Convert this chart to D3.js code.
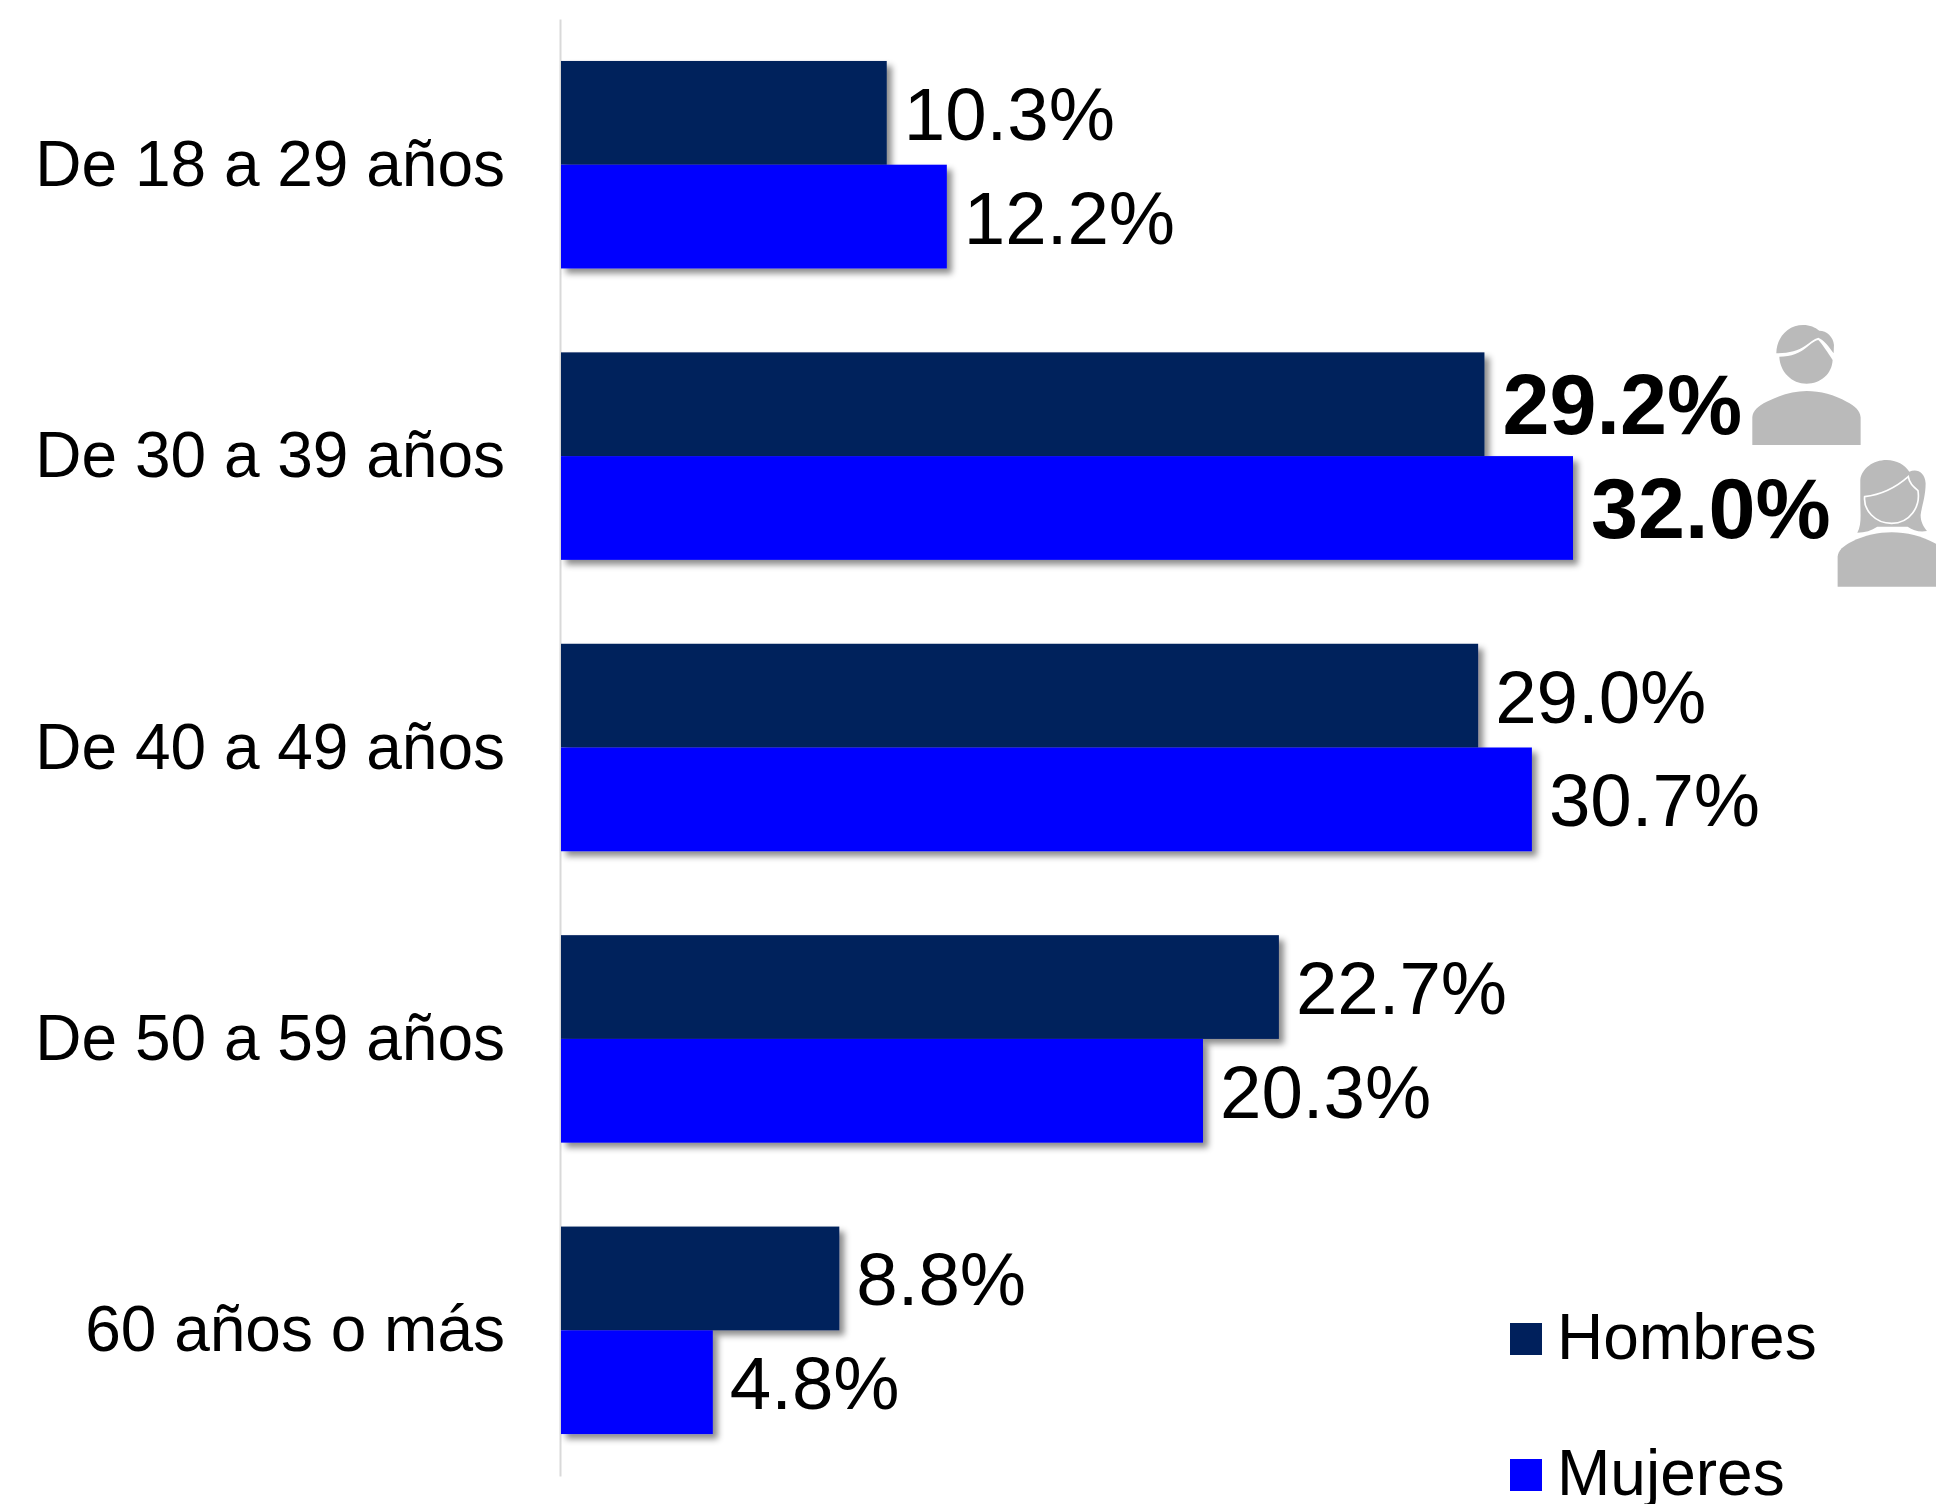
<!DOCTYPE html>
<html lang="es">
<head>
<meta charset="utf-8">
<title>Edad por sexo</title>
<script src="https://cdn.jsdelivr.net/npm/d3@7/dist/d3.min.js"></script>
<style>
  html, body { margin: 0; padding: 0; background: #fff; overflow: hidden; }
  svg { display: block; }
  text { font-family: "Liberation Sans", Arial, sans-serif; fill: #000; }
</style>
</head>
<body>
<svg id="chart" width="1936" height="1504"></svg>
<script>
const categorias = ["De 18 a 29 años", "De 30 a 39 años", "De 40 a 49 años", "De 50 a 59 años", "60 años o más"];
const hombres = [10.3, 29.2, 29.0, 22.7, 8.8];
const mujeres = [12.2, 32.0, 30.7, 20.3, 4.8];
const series = ["Hombres", "Mujeres"];
const colores = ["#00205c", "#0000ff"];
const grupoDestacado = "De 30 a 39 años";

const valores = { Hombres: hombres, Mujeres: mujeres };
const svg = d3.select("#chart");

const defs = svg.append("defs");
defs.append("filter")
    .attr("id", "sombra")
    .attr("x", "-5%").attr("y", "-10%")
    .attr("width", "115%").attr("height", "125%")
    .append("feDropShadow")
    .attr("dx", 5).attr("dy", 5)
    .attr("stdDeviation", 3)
    .attr("flood-color", "#000")
    .attr("flood-opacity", 0.45);

// Escalas
const x = d3.scaleLinear().domain([0, 32]).range([561, 1573]);
const y = d3.scaleBand().domain(categorias).range([19, 1476]).paddingInner(0.288).paddingOuter(0.144);
const ySerie = d3.scaleBand().domain(series).range([0, y.bandwidth()]);

// Eje de categorias
const eje = svg.append("g")
    .attr("transform", `translate(${x(0) - 1},0)`)
    .call(d3.axisLeft(y).tickSize(0).tickPadding(55));
eje.select(".domain").attr("stroke", "#d9d9d9").attr("stroke-width", 2);
eje.selectAll("text")
    .attr("dy", null)
    .attr("dominant-baseline", "alphabetic")
    .attr("y", 21)
    .style("font-family", "\"Liberation Sans\", Arial, sans-serif")
    .style("font-size", "64px");

// Barras
series.forEach((s, k) => {
    svg.append("g")
        .selectAll("rect")
        .data(categorias.map((c, i) => ({ c, v: valores[s][i] })))
        .join("rect")
        .attr("x", x(0))
        .attr("y", d => y(d.c) + ySerie(s))
        .attr("width", d => x(d.v) - x(0))
        .attr("height", ySerie.bandwidth())
        .attr("fill", colores[k])
        .attr("filter", "url(#sombra)");
});

// Etiquetas de datos
series.forEach((s) => {
    svg.append("g")
        .selectAll("text")
        .data(categorias.map((c, i) => ({ c, v: valores[s][i] })))
        .join("text")
        .attr("x", d => x(d.v) + (d.c === grupoDestacado ? 18 : 17))
        .attr("y", d => y(d.c) + ySerie(s) + ySerie.bandwidth() / 2 + (d.c === grupoDestacado ? 30 : 27))
        .attr("font-size", d => d.c === grupoDestacado ? 84.5 : 74.5)
        .attr("font-weight", d => d.c === grupoDestacado ? 700 : 400)
        .text(d => d.v.toFixed(1) + "%");
});

// Iconos (coordenadas locales del dibujo)
const gris = "#bababa";
const iconos = svg.append("g").attr("transform", "translate(1480,300) scale(0.3333)");

const hombre = iconos.append("g");
hombre.append("path").attr("fill", gris)
    .attr("d", "M817 435V352C819 330 835 318 860 305C900 285 940 273 980 273C1020 273 1065 285 1100 305C1125 318 1140 330 1142 352V435Z");
hombre.append("path").attr("fill", gris)
    .attr("d", "M898 170C935 170 960 160 985 138C998 127 1008 120 1015 120C1025 130 1045 160 1058 180C1056 222 1022 251 980 251C935 251 900 215 898 170Z");
hombre.append("path").attr("fill", gris)
    .attr("d", "M889 160C890 110 925 75 970 75C990 75 1005 82 1018 92C1040 92 1060 110 1062 135L1061 160C1048 140 1030 118 1015 113C1002 116 990 127 975 138C955 152 925 160 889 160Z");

const mujer = iconos.append("g");
mujer.append("path").attr("fill", gris)
    .attr("d", "M1073 860V770C1075 750 1090 738 1115 725C1155 706 1195 697 1235 697C1280 697 1325 708 1365 730C1385 742 1396 755 1398 775V860Z");
mujer.append("path").attr("fill", gris)
    .attr("d", "M1132 698C1146 675 1141 640 1141 600V540C1145 505 1180 480 1220 480C1250 480 1275 495 1288 515C1310 505 1335 515 1337 550C1337 590 1325 620 1322 645C1322 665 1330 680 1341 693C1320 697 1300 692 1283 680L1192 680C1175 692 1155 697 1132 698Z");
mujer.append("path").attr("fill", gris).attr("stroke", "#fff").attr("stroke-width", 5)
    .attr("d", "M1154 590C1200 585 1245 565 1285 530C1288 550 1300 560 1314 572C1322 620 1290 670 1235 670C1185 670 1150 630 1154 590Z");

// Leyenda
const leyenda = svg.append("g")
    .selectAll("g")
    .data(series)
    .join("g")
    .attr("transform", (d, i) => `translate(1510,${1323 + i * 136})`);
leyenda.append("rect")
    .attr("width", 32).attr("height", 32)
    .attr("fill", (d, i) => colores[i]);
leyenda.append("text")
    .attr("x", 47).attr("y", 36)
    .attr("font-size", 64)
    .text(d => d);
</script>
</body>
</html>
